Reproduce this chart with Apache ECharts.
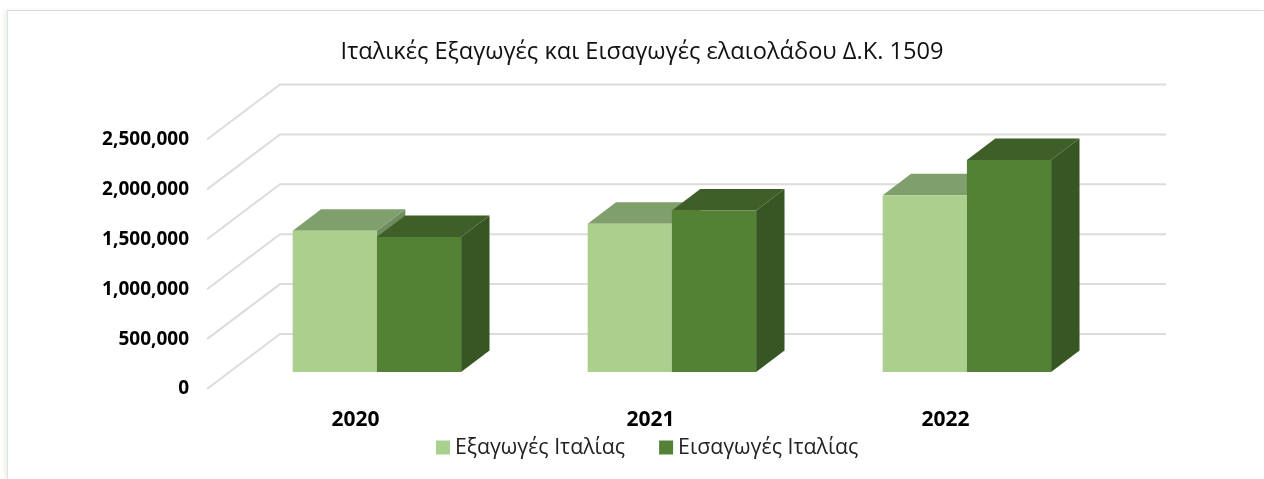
<!DOCTYPE html>
<html><head><meta charset="utf-8">
<style>
html,body{margin:0;padding:0;background:#fff;width:1264px;height:479px;overflow:hidden}
#frame{position:absolute;left:7px;top:10px;width:1257px;height:469px;border-left:1.5px solid #dfe5dc;border-top:1.5px solid #d9d9d9;box-shadow:-3px 0 4px #eef4ea;box-sizing:border-box}
#c{position:absolute;left:0;top:0;width:1264px;height:479px}
</style></head><body>
<div id="frame"></div><div id="c"></div>
<script src="https://cdn.jsdelivr.net/npm/echarts@6/dist/echarts.min.js"></script>
<script>
const categories = ['2020','2021','2022'];
const exportsItaly = [1416000,1486000,1770000];
const importsItaly = [1352000,1617000,2125000];
const ticks = [0,500000,1000000,1500000,2000000,2500000];
const titleText = 'Ιταλικές Εξαγωγές και Εισαγωγές ελαιολάδου Δ.Κ. 1509';
const seriesNames = ['Εξαγωγές Ιταλίας','Εισαγωγές Ιταλίας'];

const wallDX = 73, wallDY = 55, floorDX = 22.4, floorDY = 17, barDX = 28.4, barDY = 21.5, barFrac = 0.2855;
const font = '"Open Sans"';

function wall(params, api){
  const cs = params.coordSys;
  const y = api.coord([0, api.value(0)])[1];
  return {type:'polyline', silent:true, shape:{points:[[cs.x,y],[cs.x+wallDX,y-wallDY],[cs.x+cs.width+wallDX+1,y-wallDY]]},
    style:{stroke:'#dcdcdc',lineWidth:2,fill:null}};
}
function bar(side, front, top, right){
  return function(params, api){
    const p = api.coord([api.value(0), api.value(1)]);
    const base = api.coord([api.value(0), 0])[1] - floorDY;
    const w = api.size([1,0])[0]*barFrac;
    const x0 = p[0] + floorDX + (side<0 ? -w : 0);
    const x1 = x0 + w, y0 = p[1] - floorDY;
    const poly = (pts, fill) => ({type:'polygon', shape:{points:pts}, style:{fill}});
    return {type:'group', children:[
      poly([[x1,y0],[x1+barDX,y0-barDY],[x1+barDX,base-barDY],[x1,base]], right),
      poly([[x0,y0],[x0+barDX,y0-barDY],[x1+barDX,y0-barDY],[x1,y0]], top),
      poly([[x0,y0],[x1,y0],[x1,base],[x0,base]], front)
    ]};
  };
}
const chart = echarts.init(document.getElementById('c'), null, {renderer:'canvas'});
chart.setOption({
  animation:false,
  backgroundColor:'transparent',
  title:{text:titleText,left:637,top:35,textAlign:'center',textStyle:{fontFamily:font,fontSize:23.6,fontWeight:'normal',color:'#111'}},
  legend:{left:431,top:432,itemWidth:14,itemHeight:14,itemGap:34,icon:'rect',
    textStyle:{fontFamily:font,fontSize:21.3,color:'#222',padding:[0,0,0,0]},
    data:seriesNames},
  grid:{left:207,right:172,top:139.5,bottom:90},
  xAxis:{type:'category',data:categories,axisLine:{show:false},axisTick:{show:false},
    axisLabel:{margin:21,fontFamily:font,fontSize:21,fontWeight:'bold',color:'#000',padding:[0,0,0,2]}},
  yAxis:{type:'value',min:0,max:2500000,interval:500000,splitLine:{show:false},axisLine:{show:false},axisTick:{show:false},
    axisLabel:{margin:18,fontFamily:font,fontSize:19,fontWeight:'bold',color:'#000',padding:[7,0,0,0]}},
  series:[
    {type:'custom',silent:true,z:1,renderItem:wall,encode:{y:0},data:ticks.map(v=>[v]),coordinateSystem:'cartesian2d',legendHoverLink:false},
    {type:'custom',name:seriesNames[0],z:2,itemStyle:{color:'#a9d18e'},renderItem:bar(-1,'#abd08d','#7f9f6c','#6f8d60'),encode:{x:0,y:1},data:exportsItaly.map((v,i)=>[i,v])},
    {type:'custom',name:seriesNames[1],z:3,itemStyle:{color:'#548235'},renderItem:bar(1,'#548235','#3e5f27','#375623'),encode:{x:0,y:1},data:importsItaly.map((v,i)=>[i,v])}
  ]
});
</script></body></html>
